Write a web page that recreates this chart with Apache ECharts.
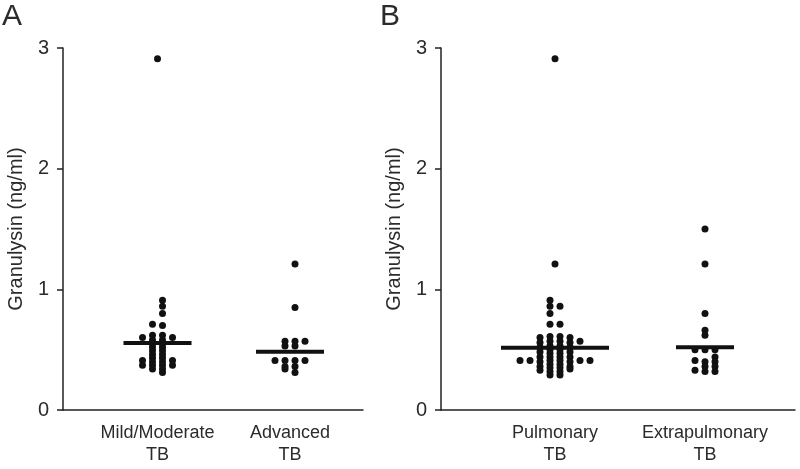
<!DOCTYPE html>
<html><head><meta charset="utf-8">
<script src="https://cdn.jsdelivr.net/npm/echarts@6/dist/echarts.min.js"></script>
<style>html,body{margin:0;padding:0;background:#fff}#c{width:800px;height:469px}</style>
</head><body><div id="c"></div>
<script>
// ---- data ----
const yTicks = [0, 1, 2, 3];
const yTitle = 'Granulysin (ng/ml)';
const panelLetters = ['A', 'B'];
const categoriesA = ['Mild/Moderate\nTB', 'Advanced\nTB'];
const categoriesB = ['Pulmonary\nTB', 'Extrapulmonary\nTB'];

// dot values (ng/ml) and their swarm column (in dot widths from the group centre)
const mildValues = [2.91, 0.91, 0.86, 0.80, 0.71, 0.70, 0.60, 0.60,
  0.62, 0.58, 0.55, 0.52, 0.49, 0.46, 0.43, 0.40, 0.37, 0.34,
  0.62, 0.58, 0.55, 0.52, 0.49, 0.46, 0.43, 0.40, 0.37, 0.34, 0.31,
  0.41, 0.37, 0.41, 0.37];
const mildColumns = [0, 0.5, 0.5, 0.5, -0.5, 0.5, -1.5, 1.5,
  -0.5, -0.5, -0.5, -0.5, -0.5, -0.5, -0.5, -0.5, -0.5, -0.5,
  0.5, 0.5, 0.5, 0.5, 0.5, 0.5, 0.5, 0.5, 0.5, 0.5, 0.5,
  -1.5, -1.5, 1.5, 1.5];

const advancedValues = [1.21, 0.85, 0.57, 0.57, 0.57, 0.53, 0.53,
  0.41, 0.41, 0.41, 0.41, 0.36, 0.36, 0.34, 0.31];
const advancedColumns = [0.5, 0.5, -0.5, 0.5, 1.5, -0.5, 0.5,
  -1.5, -0.5, 0.5, 1.5, -0.5, 0.5, -0.5, 0.5];

const pulmonaryValues = [2.91, 1.21, 0.91, 0.86, 0.86, 0.80, 0.71, 0.71,
  0.60, 0.56, 0.52, 0.48, 0.44, 0.40, 0.36, 0.33,
  0.61, 0.57, 0.53, 0.50, 0.47, 0.44, 0.41, 0.38, 0.35, 0.32, 0.29,
  0.61, 0.57, 0.53, 0.50, 0.47, 0.44, 0.41, 0.38, 0.35, 0.32, 0.29,
  0.60, 0.56, 0.52, 0.48, 0.44, 0.40, 0.36, 0.34,
  0.57, 0.41, 0.41, 0.41, 0.41];
const pulmonaryColumns = [0, 0, -0.5, -0.5, 0.5, -0.5, -0.5, 0.5,
  -1.5, -1.5, -1.5, -1.5, -1.5, -1.5, -1.5, -1.5,
  -0.5, -0.5, -0.5, -0.5, -0.5, -0.5, -0.5, -0.5, -0.5, -0.5, -0.5,
  0.5, 0.5, 0.5, 0.5, 0.5, 0.5, 0.5, 0.5, 0.5, 0.5, 0.5,
  1.5, 1.5, 1.5, 1.5, 1.5, 1.5, 1.5, 1.5,
  2.5, 2.5, 3.5, -2.5, -3.5];

const extraValues = [1.50, 1.21, 0.80, 0.66, 0.62, 0.50, 0.50, 0.50,
  0.44, 0.41, 0.40, 0.40, 0.36, 0.36, 0.33, 0.32, 0.32];
const extraColumns = [0, 0, 0, 0, 0, -1, 0, 1,
  1, -1, 0, 1, 0, 1, -1, 0, 1];

const medianValues = [0.555, 0.483, 0.515, 0.52];

// ---- layout ----
const DOT = '#111';
const TXT = '#2b2b2b';
const FONT = 'Liberation Sans, Arial, sans-serif';
const panels = [
  { left: 63, width: 300, units: 30, centres: [9.45, 22.7], cats: categoriesA,
    groups: [[mildValues, mildColumns], [advancedValues, advancedColumns]] },
  { left: 441, width: 354, units: 35.4, centres: [11.4, 26.4], cats: categoriesB,
    groups: [[pulmonaryValues, pulmonaryColumns], [extraValues, extraColumns]] }
];

const grid = [], xAxis = [], yAxis = [], series = [];
let gi = 0;
panels.forEach((p, k) => {
  grid.push({ left: p.left, width: p.width, top: 48, height: 362 });
  xAxis.push({
    type: 'value', gridIndex: k, min: 0, max: p.units,
    axisLine: { show: true, lineStyle: { color: '#222', width: 1.5 } },
    axisTick: { show: false }, splitLine: { show: false },
    axisLabel: {
      customValues: p.centres, color: TXT, fontSize: 18, lineHeight: 22, margin: 12,
      fontFamily: FONT,
      formatter: v => {
        let best = 0;
        p.centres.forEach((c, i) => { if (Math.abs(c - v) < Math.abs(p.centres[best] - v)) best = i; });
        return p.cats[best];
      }
    }
  });
  yAxis.push({
    type: 'value', gridIndex: k, min: yTicks[0], max: yTicks[yTicks.length - 1], interval: 1,
    name: yTitle, nameLocation: 'middle', nameGap: 37,
    nameTextStyle: { color: TXT, fontSize: 20, fontFamily: FONT },
    axisLine: { show: true, lineStyle: { color: '#222', width: 1.5 } },
    axisTick: { show: true, length: 6, lineStyle: { color: '#222', width: 1.5 } },
    splitLine: { show: false },
    axisLabel: { color: TXT, fontSize: 20, margin: 14, fontFamily: FONT }
  });
  p.groups.forEach((g, j) => {
    const [vals, cols] = g;
    const c = p.centres[j];
    series.push({
      type: 'scatter', xAxisIndex: k, yAxisIndex: k, symbolSize: 7,
      itemStyle: { color: DOT, opacity: 1 },
      data: vals.map((v, i) => [c + cols[i], v]), z: 3
    });
    const hw = Math.max(...cols.map(Math.abs)) + 1.9;
    series.push({
      type: 'line', xAxisIndex: k, yAxisIndex: k, symbol: 'none',
      lineStyle: { color: '#111', width: 4 }, z: 4,
      data: [[c - hw, medianValues[gi]], [c + hw, medianValues[gi]]]
    });
    gi++;
  });
});

const chart = echarts.init(document.getElementById('c'), null, { renderer: 'canvas' });
chart.setOption({
  animation: false,
  backgroundColor: '#fff',
  grid, xAxis, yAxis, series,
  graphic: [
    { type: 'text', left: 2, top: 2, style: { text: panelLetters[0], fontSize: 30, fill: TXT, fontFamily: FONT } },
    { type: 'text', left: 380, top: 2, style: { text: panelLetters[1], fontSize: 30, fill: TXT, fontFamily: FONT } }
  ]
});
</script></body></html>
